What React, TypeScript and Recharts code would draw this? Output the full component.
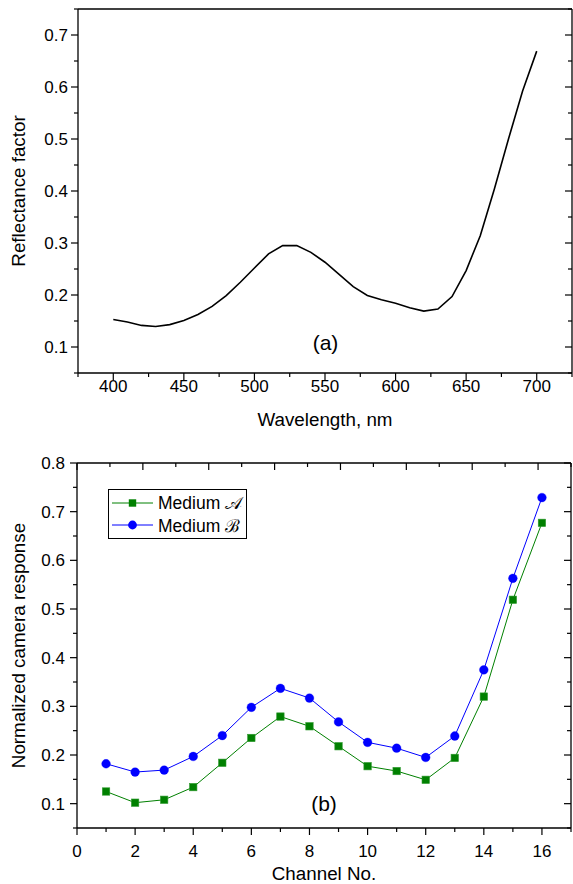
import React from 'react';
import { LineChart, Line, XAxis, YAxis, Legend } from 'recharts';

// ---------- data ----------
const wavelengths = [400, 410, 420, 430, 440, 450, 460, 470, 480, 490, 500, 510, 520, 530, 540, 550, 560, 570, 580, 590, 600, 610, 620, 630, 640, 650, 660, 670, 680, 690, 700];
const reflectance = [0.153, 0.148, 0.1415, 0.1395, 0.143, 0.151, 0.1625, 0.178, 0.199, 0.2245, 0.252, 0.279, 0.295, 0.295, 0.282, 0.263, 0.2395, 0.216, 0.199, 0.191, 0.184, 0.1755, 0.169, 0.173, 0.197, 0.247, 0.314, 0.404, 0.5, 0.5925, 0.669];

const channels = [1, 2, 3, 4, 5, 6, 7, 8, 9, 10, 11, 12, 13, 14, 15, 16];
const mediumA = [0.125, 0.102, 0.108, 0.134, 0.184, 0.235, 0.279, 0.259, 0.218, 0.177, 0.167, 0.149, 0.194, 0.32, 0.519, 0.677];
const mediumB = [0.182, 0.165, 0.169, 0.197, 0.24, 0.298, 0.337, 0.317, 0.268, 0.226, 0.214, 0.195, 0.239, 0.375, 0.563, 0.729];
const seriesNames = ['Medium \u{1D49C}', 'Medium \u212C'];

const wlMajorTicks = [400, 450, 500, 550, 600, 650, 700];
const wlMinorTicks = [375, 425, 475, 525, 575, 625, 675, 725];
const refMajorTicks = [0.1, 0.2, 0.3, 0.4, 0.5, 0.6, 0.7];
const refMinorTicks = [0.05, 0.15, 0.25, 0.35, 0.45, 0.55, 0.65, 0.75];
const chMajorTicks = [0, 2, 4, 6, 8, 10, 12, 14, 16];
const chMinorTicks = [1, 3, 5, 7, 9, 11, 13, 15, 17];
const respMajorTicks = [0.1, 0.2, 0.3, 0.4, 0.5, 0.6, 0.7, 0.8];
const respMinorTicks = [0.05, 0.15, 0.25, 0.35, 0.45, 0.55, 0.65, 0.75];

const spectrumData = wavelengths.map((wl, i) => ({ wl, r: reflectance[i] }));
const responseData = channels.map((ch, i) => ({ ch, a: mediumA[i], b: mediumB[i] }));

// ---------- styling helpers ----------
const FONT = '"Liberation Sans", Arial, Helvetica, sans-serif';
const GREEN = '#008000';
const BLUE = '#0000ff';
const TICK_FONT = 17;

const isIn = (arr: number[], v: number) => arr.some((m) => Math.abs(m - v) < 1e-6);

type TickOpts = {
  side: 'bottom' | 'top' | 'left' | 'right';
  major: number[];
  showLabel: boolean;
  gap?: number;
  digits?: number;
};

const makeTick = (o: TickOpts) => (props: any) => {
  const { x, y, payload } = props;
  const v = Number(payload.value);
  const major = isIn(o.major, v);
  const len = major ? 7 : 4;
  const vertical = o.side === 'bottom' || o.side === 'top';
  const line = vertical ? (
    <line x1={x} y1={y} x2={x} y2={y + len} stroke="#000" strokeWidth={1.2} />
  ) : (
    <line x1={x} y1={y} x2={x - len} y2={y} stroke="#000" strokeWidth={1.2} />
  );
  let label = null;
  if (o.showLabel && major) {
    const txt = v.toFixed(o.digits ?? 0);
    label = vertical ? (
      <text x={x} y={y + (o.gap ?? 18)} textAnchor="middle" fontFamily={FONT} fontSize={TICK_FONT} fill="#000">
        {txt}
      </text>
    ) : (
      <text x={x - (o.gap ?? 10)} y={y + 6} textAnchor="end" fontFamily={FONT} fontSize={TICK_FONT} fill="#000">
        {txt}
      </text>
    );
  }
  return (
    <g>
      {line}
      {label}
    </g>
  );
};

const axisLineStyle = { stroke: '#000', strokeWidth: 1.3 };

const SquareDot = (p: any) => {
  if (p.cx == null || p.cy == null) return <g />;
  return <rect x={p.cx - 3.7} y={p.cy - 3.7} width={7.4} height={7.4} fill={GREEN} stroke="#2f9a2f" strokeWidth={0.6} />;
};
const CircleDot = (p: any) => {
  if (p.cx == null || p.cy == null) return <g />;
  return <circle cx={p.cx} cy={p.cy} r={4.4} fill={BLUE} stroke={BLUE} strokeWidth={0.3} />;
};

const LegendBox = (props: any) => {
  const payload = props.payload || [];
  return (
    <div
      style={{
        border: '1px solid #000',
        background: '#fff',
        padding: '2px 4px 2px 3px',
        fontFamily: FONT,
        fontSize: 17.5,
        color: '#000',
      }}
    >
      {payload.map((e: any, i: number) => {
        const key = e.dataKey ?? (e.payload && e.payload.dataKey);
        const isA = key === 'a';
        return (
          <div key={i} style={{ display: 'flex', alignItems: 'center', height: 22, whiteSpace: 'nowrap' }}>
            <svg width={41} height={14} style={{ display: 'block' }}>
              <line x1={0} y1={7} x2={41} y2={7} stroke={e.color} strokeWidth={1} />
              {isA ? (
                <rect x={16.8} y={3.3} width={7.4} height={7.4} fill={GREEN} />
              ) : (
                <circle cx={20.5} cy={7} r={4.4} fill={BLUE} />
              )}
            </svg>
            <span style={{ marginLeft: 5 }}>{e.value}</span>
          </div>
        );
      })}
    </div>
  );
};

const titleStyle = { fontFamily: FONT, fontSize: 18.8, fill: '#000' };

export default function App() {
  const ticksWl = [...wlMinorTicks, ...wlMajorTicks].sort((a, b) => a - b);
  const ticksRef = [...refMinorTicks, ...refMajorTicks].sort((a, b) => a - b);
  const ticksCh = [...chMinorTicks, ...chMajorTicks].sort((a, b) => a - b);
  const ticksResp = [...respMinorTicks, ...respMajorTicks].sort((a, b) => a - b);

  return (
    <div style={{ position: 'absolute', left: 0, top: 0, width: 573, height: 884, background: '#fff', overflow: 'hidden' }}>
      {/* (a) spectrum */}
      <div style={{ position: 'absolute', left: 0, top: 0 }}>
        <LineChart width={573} height={440} data={spectrumData} margin={{ top: 9, right: 1, bottom: 0, left: 0 }}>
          <XAxis
            dataKey="wl"
            type="number"
            domain={[375, 725]}
            allowDataOverflow
            ticks={ticksWl}
            interval={0}
            tickSize={0}
            tickMargin={0}
            tickLine={false}
            height={67}
            axisLine={axisLineStyle}
            tick={makeTick({ side: 'bottom', major: wlMajorTicks, showLabel: true, gap: 18.5, digits: 0 })}
            label={{ value: 'Wavelength, nm', position: 'insideBottom', offset: 14, style: titleStyle }}
          />
          <XAxis
            xAxisId="top"
            orientation="top"
            mirror
            type="number"
            domain={[375, 725]}
            allowDataOverflow
            ticks={ticksWl}
            interval={0}
            tickSize={0}
            tickMargin={0}
            tickLine={false}
            axisLine={axisLineStyle}
            tick={makeTick({ side: 'top', major: wlMajorTicks, showLabel: false })}
          />
          <YAxis
            type="number"
            domain={[0.05, 0.75]}
            allowDataOverflow
            ticks={ticksRef}
            interval={0}
            tickSize={0}
            tickMargin={0}
            tickLine={false}
            width={78}
            axisLine={axisLineStyle}
            tick={makeTick({ side: 'left', major: refMajorTicks, showLabel: true, gap: 10, digits: 1 })}
            label={{ value: 'Reflectance factor', angle: -90, position: 'insideLeft', offset: 18, style: { ...titleStyle, textAnchor: 'middle' } }}
          />
          <YAxis
            yAxisId="right"
            orientation="right"
            mirror
            type="number"
            domain={[0.05, 0.75]}
            allowDataOverflow
            ticks={ticksRef}
            interval={0}
            tickSize={0}
            tickMargin={0}
            tickLine={false}
            width={20}
            axisLine={axisLineStyle}
            tick={makeTick({ side: 'right', major: refMajorTicks, showLabel: false })}
          />
          <Line dataKey="r" type="linear" stroke="#000" strokeWidth={1.6} dot={false} isAnimationActive={false} />
        </LineChart>
        <div
          style={{
            position: 'absolute',
            left: 325.5,
            top: 341.7,
            transform: 'translate(-50%, -50%)',
            fontFamily: FONT,
            fontSize: 21,
            lineHeight: 1,
            color: '#000',
          }}
        >
          (a)
        </div>
      </div>

      {/* (b) camera response */}
      <div style={{ position: 'absolute', left: 0, top: 440 }}>
        <LineChart width={573} height={444} data={responseData} margin={{ top: 23, right: 2, bottom: 0, left: 0 }}>
          <XAxis
            dataKey="ch"
            type="number"
            domain={[0, 17]}
            allowDataOverflow
            ticks={ticksCh}
            interval={0}
            tickSize={0}
            tickMargin={0}
            tickLine={false}
            height={56}
            axisLine={axisLineStyle}
            tick={makeTick({ side: 'bottom', major: chMajorTicks, showLabel: true, gap: 29, digits: 0 })}
            label={{ value: 'Channel No.', position: 'insideBottom', offset: 4, style: titleStyle }}
          />
          <XAxis
            xAxisId="top"
            orientation="top"
            mirror
            type="number"
            domain={[0, 17]}
            allowDataOverflow
            ticks={ticksCh}
            interval={0}
            tickSize={0}
            tickMargin={0}
            tickLine={false}
            axisLine={axisLineStyle}
            tick={makeTick({ side: 'top', major: chMajorTicks, showLabel: false })}
          />
          <YAxis
            type="number"
            domain={[0.05, 0.8]}
            allowDataOverflow
            ticks={ticksResp}
            interval={0}
            tickSize={0}
            tickMargin={0}
            tickLine={false}
            width={77}
            axisLine={axisLineStyle}
            tick={makeTick({ side: 'left', major: respMajorTicks, showLabel: true, gap: 12, digits: 1 })}
            label={{ value: 'Normalized camera response', angle: -90, position: 'insideLeft', offset: 18, style: { ...titleStyle, textAnchor: 'middle' } }}
          />
          <YAxis
            yAxisId="right"
            orientation="right"
            mirror
            type="number"
            domain={[0.05, 0.8]}
            allowDataOverflow
            ticks={ticksResp}
            interval={0}
            tickSize={0}
            tickMargin={0}
            tickLine={false}
            width={20}
            axisLine={axisLineStyle}
            tick={makeTick({ side: 'right', major: respMajorTicks, showLabel: false })}
          />
          <Legend
            layout="vertical"
            align="center"
            verticalAlign="middle"
            itemSorter="dataKey"
            content={LegendBox}
            wrapperStyle={{ left: 108, top: 49, width: 'auto', height: 'auto' }}
          />
          <Line
            dataKey="a"
            name={seriesNames[0]}
            type="linear"
            stroke={GREEN}
            strokeWidth={1}
            dot={SquareDot}
            isAnimationActive={false}
          />
          <Line
            dataKey="b"
            name={seriesNames[1]}
            type="linear"
            stroke={BLUE}
            strokeWidth={1}
            dot={CircleDot}
            isAnimationActive={false}
          />
        </LineChart>
        <div
          style={{
            position: 'absolute',
            left: 324,
            top: 362.5,
            transform: 'translate(-50%, -50%)',
            fontFamily: FONT,
            fontSize: 21,
            lineHeight: 1,
            color: '#000',
          }}
        >
          (b)
        </div>
      </div>
    </div>
  );
}
